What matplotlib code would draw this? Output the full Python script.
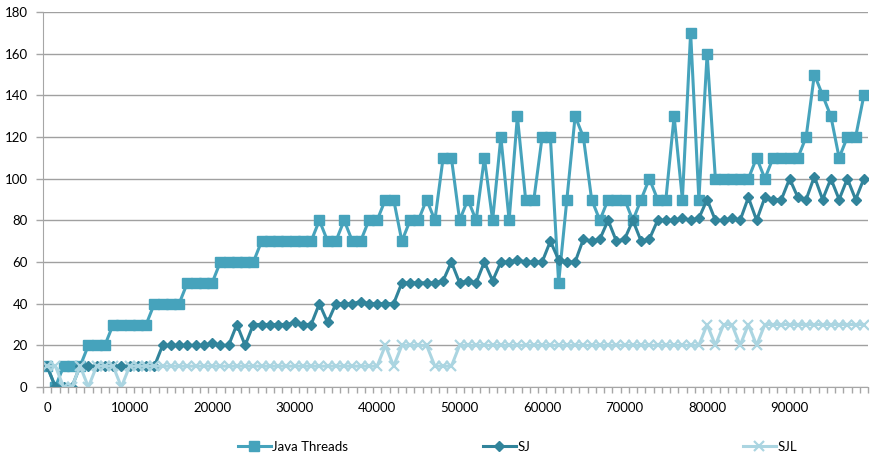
import matplotlib
matplotlib.use("Agg")
import matplotlib.pyplot as plt
from matplotlib.ticker import MultipleLocator, FixedLocator

plt.rcParams['font.family'] = ['Lato', 'DejaVu Sans']

# x categories (number of threads)
categorias = list(range(0, 100000, 1000))

java_threads = [10, 0, 10, 10, 10, 20, 20, 20, 30, 30,
                30, 30, 30, 40, 40, 40, 40, 50, 50, 50,
                50, 60, 60, 60, 60, 60, 70, 70, 70, 70,
                70, 70, 70, 80, 70, 70, 80, 70, 70, 80,
                80, 90, 90, 70, 80, 80, 90, 80, 110, 110,
                80, 90, 80, 110, 80, 120, 80, 130, 90, 90,
                120, 120, 50, 90, 130, 120, 90, 80, 90, 90,
                90, 80, 90, 100, 90, 90, 130, 90, 170, 90,
                160, 100, 100, 100, 100, 100, 110, 100, 110, 110,
                110, 110, 120, 150, 140, 130, 110, 120, 120, 140]

sj = [10, 0, 0, 0, 10, 10, 10, 10, 10, 10,
      10, 10, 10, 10, 20, 20, 20, 20, 20, 20,
      21, 20, 20, 30, 20, 30, 30, 30, 30, 30,
      31, 30, 30, 40, 31, 40, 40, 40, 41, 40,
      40, 40, 40, 50, 50, 50, 50, 50, 51, 60,
      50, 51, 50, 60, 51, 60, 60, 61, 60, 60,
      60, 70, 61, 60, 60, 71, 70, 71, 80, 70,
      71, 80, 70, 71, 80, 80, 80, 81, 80, 81,
      90, 80, 80, 81, 80, 91, 80, 91, 90, 90,
      100, 91, 90, 101, 90, 100, 90, 100, 90, 100]

sjl = [10, 10, 0, 0, 10, 0, 10, 10, 10, 0,
       10, 10, 10, 10, 10, 10, 10, 10, 10, 10,
       10, 10, 10, 10, 10, 10, 10, 10, 10, 10,
       10, 10, 10, 10, 10, 10, 10, 10, 10, 10,
       10, 20, 10, 20, 20, 20, 20, 10, 10, 10,
       20, 20, 20, 20, 20, 20, 20, 20, 20, 20,
       20, 20, 20, 20, 20, 20, 20, 20, 20, 20,
       20, 20, 20, 20, 20, 20, 20, 20, 20, 20,
       30, 20, 30, 30, 20, 30, 20, 30, 30, 30,
       30, 30, 30, 30, 30, 30, 30, 30, 30, 30]

cor_java = '#46A3BC'
cor_sj = '#31849B'
cor_sjl = '#ABD5E1'
cinza = '#A6A6A6'

fig = plt.figure(figsize=(8.71, 4.58), dpi=100)
ax = fig.add_axes([43/871, 1 - 387/458, 825/871, 375/458])

x = list(range(len(categorias)))
l1, = ax.plot(x, java_threads, color=cor_java, lw=2.2, marker='s', ms=6.5,
              mec=cor_java, mfc=cor_java, label='Java Threads')
l2, = ax.plot(x, sj, color=cor_sj, lw=2.2, marker='D', ms=5.5,
              mec=cor_sj, mfc=cor_sj, label='SJ')
l3, = ax.plot(x, sjl, color=cor_sjl, lw=2.2, marker='x', ms=6.5, mew=1.6,
              mec=cor_sjl, label='SJL')

ax.set_xlim(-0.5, len(categorias) - 0.5)
ax.set_ylim(0, 180)
ax.yaxis.set_major_locator(MultipleLocator(20))
ax.grid(axis='y', color='#A0A0A0', lw=1)
ax.set_axisbelow(True)

ax.xaxis.set_major_locator(FixedLocator(x[::10]))
ax.set_xticklabels([str(c) for c in categorias[::10]])
ax.xaxis.set_minor_locator(FixedLocator([i - 0.5 for i in range(len(categorias) + 1)]))
ax.tick_params(axis='x', which='major', length=0, pad=11, labelsize=9.5, labelcolor='black')
ax.tick_params(axis='x', which='minor', length=4, color=cinza, width=1)
ax.tick_params(axis='y', which='major', length=5, color=cinza, width=1, labelsize=9.5, pad=6)

for s in ['top', 'right']:
    ax.spines[s].set_visible(False)
ax.spines['left'].set_color(cinza)
ax.spines['bottom'].set_color(cinza)

# Excel style legend, entries spread along the bottom
for linha, xpos in [(l1, 238), (l2, 483), (l3, 743)]:
    fig.legend(handles=[linha], loc='center left', bbox_to_anchor=(xpos/871, 1 - 447/458),
               frameon=False, fontsize=9.5, handlelength=2.5, handletextpad=0.1,
               borderpad=0, borderaxespad=0)

fig.savefig('out.png', dpi=100)
